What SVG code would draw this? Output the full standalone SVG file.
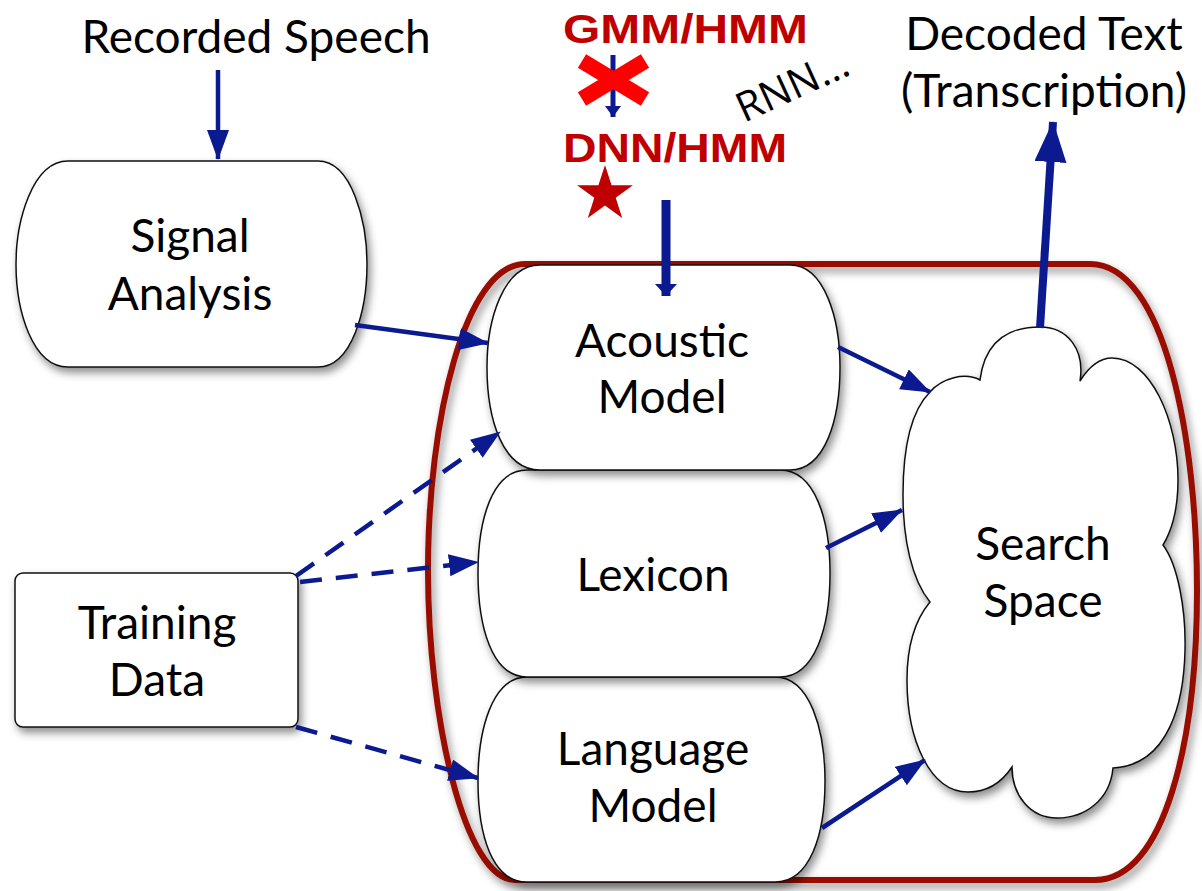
<svg xmlns="http://www.w3.org/2000/svg" width="1202" height="891" viewBox="0 0 1202 891">
<defs>
<filter id="sh" x="-20%" y="-20%" width="140%" height="140%">
<feDropShadow dx="3" dy="5" stdDeviation="4" flood-color="#000" flood-opacity="0.45"/>
</filter>
<marker id="ah" markerUnits="userSpaceOnUse" markerWidth="32" markerHeight="24" refX="29" refY="11" orient="auto">
<path d="M0,0 L30,11 L0,22 Z" fill="#0c1a90"/>
</marker>
<marker id="ahb" markerUnits="userSpaceOnUse" markerWidth="44" markerHeight="34" refX="40" refY="16" orient="auto">
<path d="M0,0 L41,16 L0,32 Z" fill="#0c1a90"/>
</marker>
<marker id="ahm" markerUnits="userSpaceOnUse" markerWidth="14" markerHeight="24" refX="12" refY="11" orient="auto">
<path d="M0,0 L12,11 L0,22 Z" fill="#0c1a90"/>
</marker>
<marker id="ahs" markerUnits="userSpaceOnUse" markerWidth="14" markerHeight="18" refX="11" refY="8" orient="auto">
<path d="M0,0 L11,8 L0,16 Z" fill="#0c1a90"/>
</marker>
</defs>
<style>
.node{fill:#fff;stroke:#111;stroke-width:1.5;filter:url(#sh)}
.lbl{font-family:Lato,"Liberation Sans",sans-serif;font-size:46px;fill:#000;text-anchor:middle}
.c{stroke:#0c1a90;stroke-width:4.5;fill:none;marker-end:url(#ah)}
.d{stroke-dasharray:22 14}
.red{font-family:"Liberation Sans",Arial,sans-serif;font-weight:bold;font-size:41px;fill:#c00000}
</style>
<rect width="1202" height="891" fill="#fff"/>

<g id="container">
<path d="M525,264 H1090 C1165,264 1197,440 1197,590 C1197,740 1165,880 1095,880 H515 C465,880 428,720 428,570 C428,420 465,264 525,264 Z" fill="none" stroke="#991100" stroke-width="6" filter="url(#sh)"/>
</g>

<g id="recorded-speech"><text class="lbl" x="256" y="53">Recorded Speech</text></g>
<g id="decoded-text"><text class="lbl" x="1044" y="50">Decoded Text</text><text class="lbl" x="1044" y="107">(Transcription)</text></g>

<g id="signal-analysis">
<path class="node" d="M68,161 H318 C352,161 367,222 367,264 C367,310 352,367 318,367 H68 C32,367 16,310 16,264 C16,222 32,161 68,161 Z"/>
<text class="lbl" x="190" y="252">Signal</text><text class="lbl" x="190" y="310">Analysis</text>
</g>

<g id="training-data">
<rect class="node" x="15" y="573" width="283" height="154" rx="8" stroke-width="3"/>
<text class="lbl" x="157" y="639">Training</text><text class="lbl" x="157" y="696">Data</text>
</g>

<g id="language-model">
<path class="node" d="M527,677 H775 C810,677 825,730 825,781 C825,835 810,882 775,882 H527 C492,882 478,835 478,781 C478,730 492,677 527,677 Z"/>
<text class="lbl" x="653" y="765">Language</text><text class="lbl" x="653" y="822">Model</text>
</g>
<g id="lexicon">
<path class="node" d="M527,470 H780 C815,470 830,520 830,573 C830,627 815,677 780,677 H527 C492,677 478,627 478,573 C478,520 492,470 527,470 Z"/>
<text class="lbl" x="653" y="591">Lexicon</text>
</g>
<g id="acoustic-model">
<path class="node" d="M540,265 H790 C825,265 840,320 840,367 C840,420 825,470 790,470 H540 C503,470 487,420 487,367 C487,320 503,265 540,265 Z"/>
<text class="lbl" x="662" y="357">Acoustic</text><text class="lbl" x="662" y="413">Model</text>
</g>

<g id="search-space">
<path class="node" d="M980,380 C985,340 1010,327 1040,327 C1068,327 1085,350 1080,381 C1090,365 1100,358 1112,358 C1150,358 1178,420 1178,480 C1178,510 1172,530 1163,545 C1178,565 1186,610 1185,650 C1184,700 1170,765 1113,768 C1110,800 1085,818 1057,818 C1030,818 1012,795 1012,767 C1000,785 985,792 968,792 C930,792 907,740 907,680 C907,645 915,620 930,602 C912,580 903,540 903,495 C903,445 912,410 930,392 C942,378 965,372 980,380 Z"/>
<text class="lbl" x="1043" y="560">Search</text><text class="lbl" x="1043" y="617">Space</text>
</g>

<g id="gmm-hmm"><text class="red" x="563" y="43" textLength="245" lengthAdjust="spacingAndGlyphs">GMM/HMM</text></g>
<g id="dnn-hmm"><text class="red" x="563" y="162" textLength="224" lengthAdjust="spacingAndGlyphs">DNN/HMM</text></g>
<g id="rnn"><text x="744" y="123" transform="rotate(-24.5 744 123)" font-family="'Open Sans','Liberation Sans',sans-serif" font-size="41" fill="#000">RNN…</text></g>
<g id="star"><path d="M605,165 L611.6,185.2 L632.9,185.2 L615.7,197.8 L622.2,218 L605,205.5 L587.8,218 L594.3,197.8 L577.1,185.2 L598.4,185.2 Z" fill="#c00000"/></g>

<g id="connectors">
<line x1="218" y1="70" x2="218" y2="159" class="c"/>
<line x1="355" y1="325" x2="488" y2="343" class="c"/>
<line x1="838" y1="347" x2="930" y2="392" class="c"/>
<line x1="826" y1="548" x2="902" y2="510" class="c"/>
<line x1="822" y1="828" x2="925" y2="760" class="c"/>
<line x1="1040" y1="328" x2="1053" y2="122" class="c" style="stroke-width:8;marker-end:url(#ahb)"/>
<line x1="666" y1="200" x2="666" y2="296" class="c" style="stroke-width:9;marker-end:url(#ahm)"/>
<line x1="296" y1="576" x2="500" y2="432" class="c d"/>
<line x1="300" y1="582" x2="478" y2="562" class="c d"/>
<line x1="296" y1="727" x2="478" y2="778" class="c d"/>
<line x1="613" y1="55" x2="613" y2="117" class="c" style="stroke-width:5;marker-end:url(#ahs)"/>
</g>
<g id="cross"><path d="M582,61 L645,99 M645,61 L582,99" stroke="#ff0000" stroke-width="16"/></g>
</svg>
